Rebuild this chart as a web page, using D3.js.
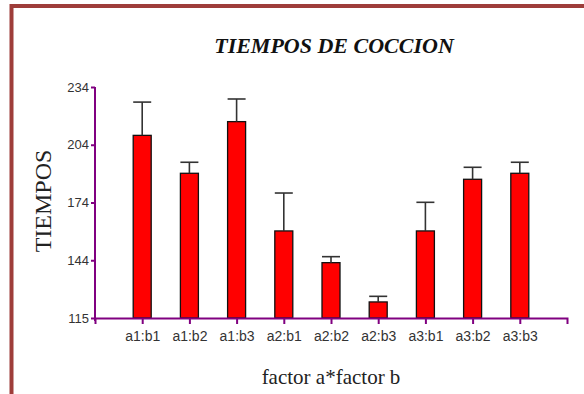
<!DOCTYPE html>
<html>
<head>
<meta charset="utf-8">
<script src="https://cdn.jsdelivr.net/npm/d3@7"></script>
<style>
html,body{margin:0;padding:0;background:#fff;}
svg{display:block;}
</style>
</head>
<body>
<svg id="chart" width="584" height="394"></svg>
<script>
const categories = ["a1:b1","a1:b2","a1:b3","a2:b1","a2:b2","a2:b3","a3:b1","a3:b2","a3:b3"];
const means = [209.0, 189.4, 216.1, 159.6, 143.2, 122.9, 159.6, 186.3, 189.4];
const upperErr = [226.2, 195.1, 227.8, 179.2, 146.3, 125.8, 174.4, 192.5, 195.1];
const yTickValues = [114.6, 144.45, 174.3, 204.15, 234];
const yTickLabels = ["115", "144", "174", "204", "234"];
const title = "TIEMPOS DE COCCION";
const xTitle = "factor a*factor b";
const yTitle = "TIEMPOS";

const svg = d3.select("#chart");
const axisColor = "#800080";
const serif = "'Liberation Serif','Times New Roman',serif";
const sans = "'Liberation Sans',Arial,sans-serif";

// frame
svg.append("rect").attr("x", 11.5).attr("y", 6).attr("width", 700).attr("height", 500)
  .attr("fill", "none").attr("stroke", "#9e3d3a").attr("stroke-width", 4);

const x = d3.scalePoint().domain(categories).range([95, 567]).padding(1);
const y = d3.scaleLinear().domain([114.6, 234]).range([318, 87]);
const bw = 18;

// bars
svg.append("g").selectAll("rect").data(categories).join("rect")
  .attr("x", (d) => x(d) - bw / 2)
  .attr("y", (d, i) => y(means[i]))
  .attr("width", bw)
  .attr("height", (d, i) => y(114.6) - y(means[i]))
  .attr("fill", "#ff0000").attr("stroke", "#111").attr("stroke-width", 1.3);

// error bars
const eg = svg.append("g").attr("stroke", "#333").attr("stroke-width", 1.6);
categories.forEach((c, i) => {
  eg.append("line").attr("x1", x(c)).attr("x2", x(c)).attr("y1", y(means[i])).attr("y2", y(upperErr[i]));
  eg.append("line").attr("x1", x(c) - bw / 2).attr("x2", x(c) + bw / 2).attr("y1", y(upperErr[i])).attr("y2", y(upperErr[i]));
});

// y axis
const yAxis = d3.axisLeft(y).tickValues(yTickValues).tickFormat((d, i) => yTickLabels[i]).tickSize(4).tickSizeOuter(0).tickPadding(2);
const gy = svg.append("g").attr("transform", "translate(95,0)").call(yAxis);
gy.selectAll("path,line").attr("stroke", axisColor).attr("stroke-width", 2);
gy.selectAll("text").attr("font-family", sans).attr("font-size", 13).attr("fill", "#333");
gy.select(".domain").attr("d", "M0,87V321");

// x axis
const xAxis = d3.axisBottom(x).tickSize(6).tickSizeOuter(6).tickPadding(7);
const gx = svg.append("g").attr("transform", "translate(0,318)").call(xAxis);
gx.selectAll("path,line").attr("stroke", axisColor).attr("stroke-width", 2);
gx.selectAll("text").attr("font-family", sans).attr("font-size", 14).attr("fill", "#333");

// titles
svg.append("text").attr("x", 334).attr("y", 53).attr("text-anchor", "middle")
  .attr("font-family", serif).attr("font-size", 22).attr("font-weight", "bold").attr("font-style", "italic")
  .attr("fill", "#111").text(title);
svg.append("text").attr("x", 331).attr("y", 384).attr("text-anchor", "middle")
  .attr("font-family", serif).attr("font-size", 21).attr("fill", "#222").text(xTitle);
svg.append("text").attr("transform", "translate(51,201) rotate(-90)").attr("text-anchor", "middle")
  .attr("font-family", serif).attr("font-size", 24).attr("fill", "#222").text(yTitle);
</script>
</body>
</html>
